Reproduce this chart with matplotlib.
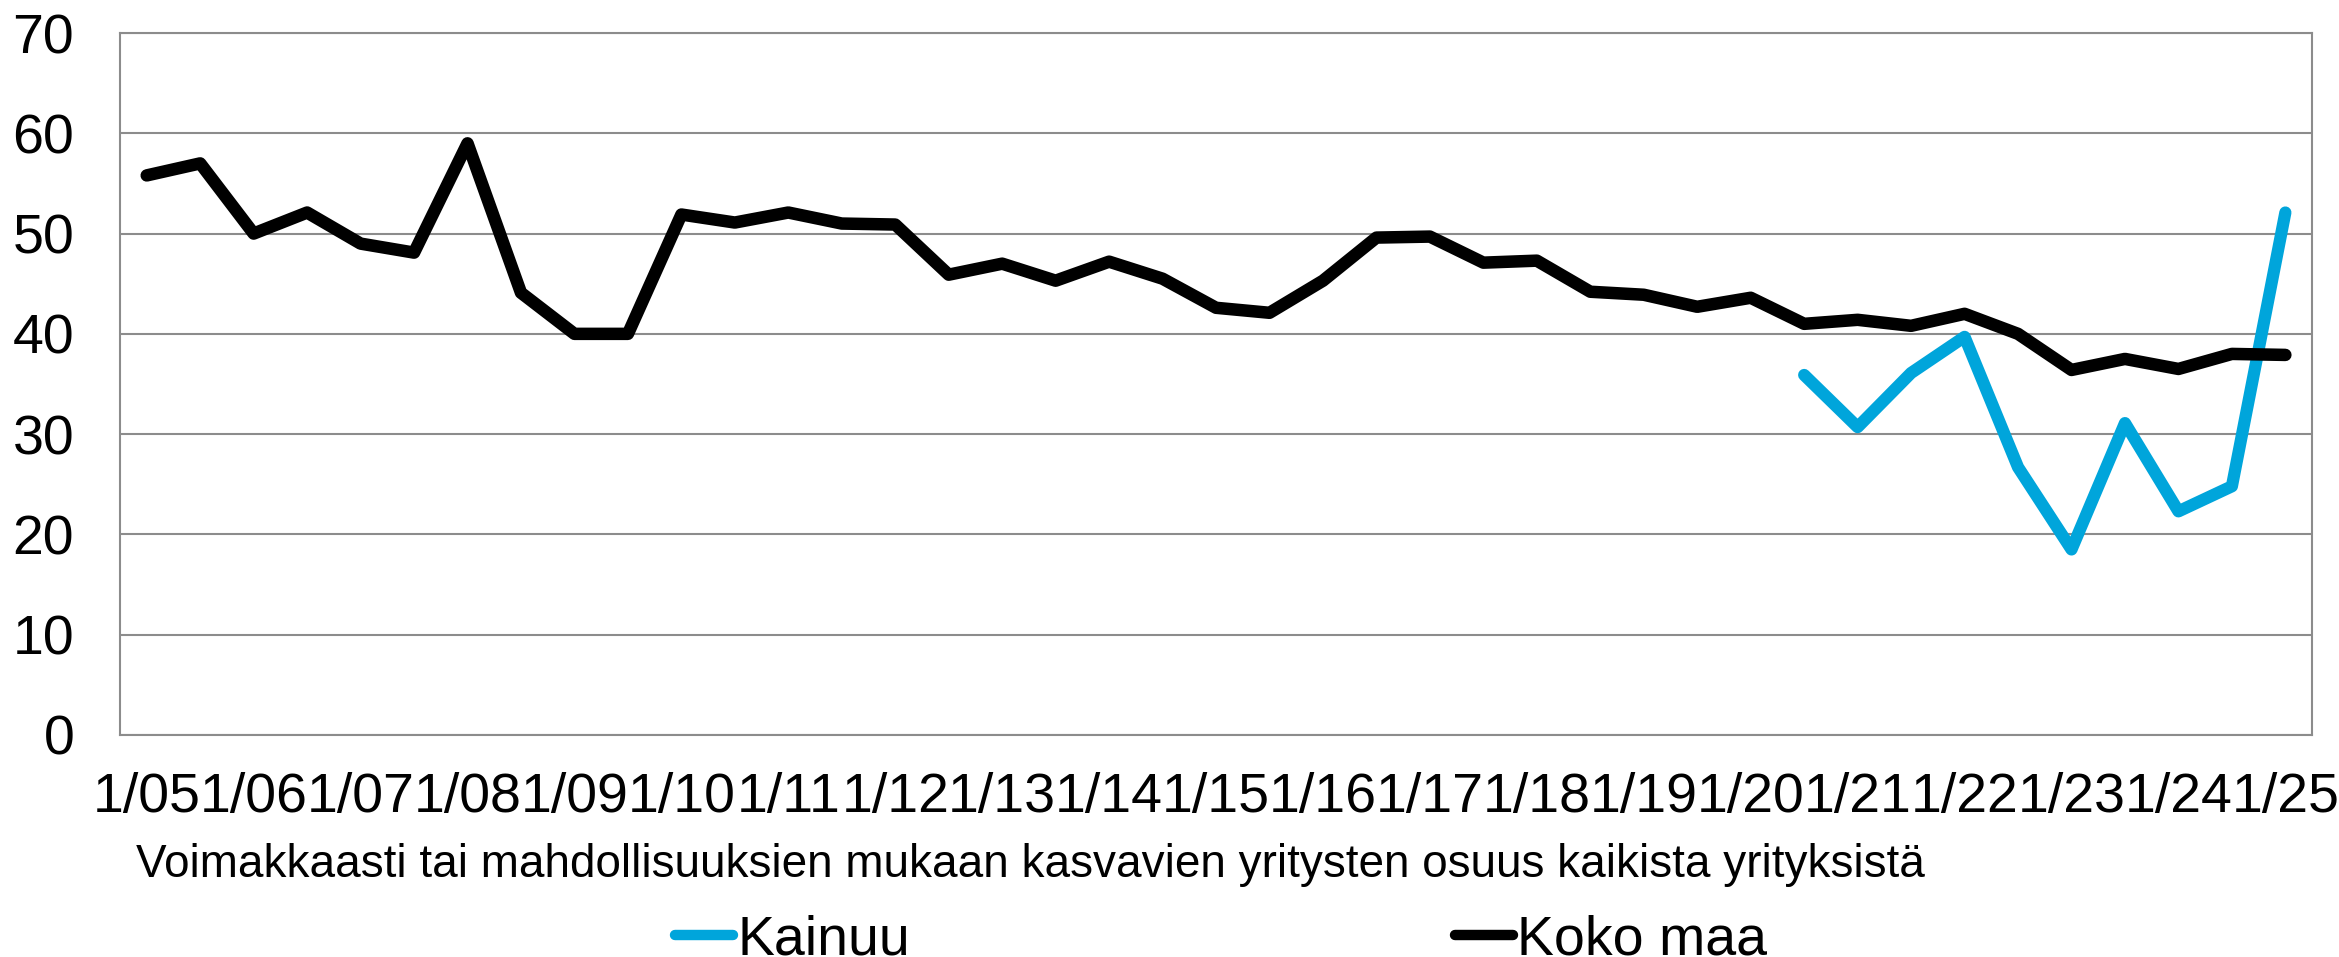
import matplotlib
matplotlib.use("Agg")
import matplotlib.pyplot as plt
import numpy as np

plt.rcParams["font.family"] = ["Liberation Sans", "DejaVu Sans"]

# half-year observations 1/05 ... 1/25 (41 points)
koko_maa = [55.8, 57.0, 50.0, 52.1, 49.0, 48.1, 59.0, 44.1, 40.0, 40.0,
            51.9, 51.1, 52.1, 51.0, 50.9, 45.9, 47.0, 45.3, 47.2, 45.5,
            42.6, 42.1, 45.3, 49.6, 49.7, 47.1, 47.3, 44.2, 43.9, 42.7,
            43.6, 41.0, 41.4, 40.8, 42.0, 40.0, 36.4, 37.5, 36.5, 38.0,
            37.9]
# Kainuu only from 1/20 onwards (index 31)
kainuu_start = 31
kainuu = [35.9, 30.7, 36.1, 39.7, 26.7, 18.5, 31.1, 22.3, 24.8, 52.1]
tick_labels = ["1/%02d" % y for y in range(5, 26)]

x_title = "Voimakkaasti tai mahdollisuuksien mukaan kasvavien yritysten osuus kaikista yrityksistä"

BLUE = "#00A5DB"
GRID = "#8C8C8C"

fig = plt.figure(figsize=(23.39, 9.57), dpi=100)
ax = fig.add_axes([0.0513, 0.232, 0.9372, 0.7335])

x_all = np.arange(len(koko_maa))
x_kai = np.arange(kainuu_start, kainuu_start + len(kainuu))

ax.plot(x_kai, kainuu, color=BLUE, lw=8.8, solid_capstyle="round",
        solid_joinstyle="round", label="Kainuu", zorder=3)
ax.plot(x_all, koko_maa, color="black", lw=9, solid_capstyle="round",
        solid_joinstyle="round", label="Koko maa", zorder=3)

ax.set_xlim(-0.5, len(koko_maa) - 0.5)
ax.set_ylim(0, 70)
ax.set_yticks(np.arange(0, 71, 10))
ax.set_xticks(x_all[::2])
ax.set_xticklabels(tick_labels)

ax.grid(axis="y", color=GRID, lw=1.5)
ax.set_axisbelow(True)
for s in ["left", "top", "right", "bottom"]:
    ax.spines[s].set_color(GRID)
    ax.spines[s].set_linewidth(1.5)

ax.tick_params(axis="both", length=0, labelsize=40)
ax.tick_params(axis="y", pad=33)
ax.tick_params(axis="x", pad=27)

fig.text(0.4407, 0.096, x_title, ha="center", va="center", fontsize=33)

handles, labels = ax.get_legend_handles_labels()
leg = fig.legend(handles, labels, ncol=2, loc="center", bbox_to_anchor=(0.522, 0.017),
                 frameon=False, fontsize=40, handlelength=1.05, handletextpad=0.08,
                 columnspacing=9.8, borderpad=0)
for h in leg.legend_handles:
    h.set_linewidth(7.5)

fig.savefig("out.png", dpi=100)
